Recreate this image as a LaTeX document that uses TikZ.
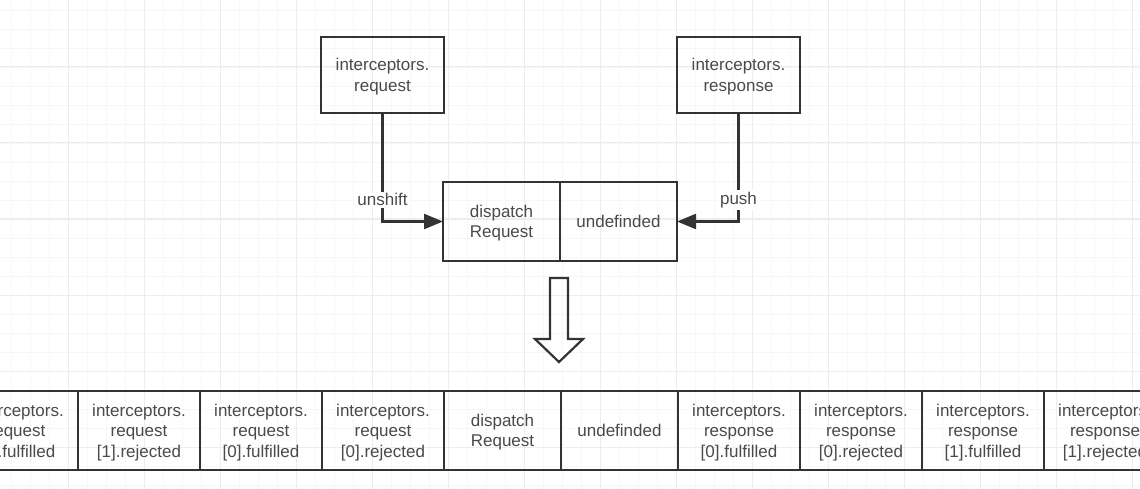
\documentclass[tikz,border=0pt]{standalone}
\usepackage{fontspec}
\setmainfont{Liberation Sans}
\usetikzlibrary{positioning, arrows.meta}
\definecolor{ink}{HTML}{333333}
\definecolor{txt}{HTML}{4A4A4A}
\definecolor{majorgrid}{HTML}{EDEDED}
\definecolor{minorgrid}{HTML}{F7F7F7}
\tikzset{
  box/.style={draw=ink, line width=2.6pt, text=txt, align=center,
    inner sep=0pt, outer sep=0pt, minimum height=76pt, text depth=0pt,
    font=\fontsize{17}{20.5}\selectfont},
  cell/.style={box, minimum height=79pt},
  conn/.style={draw=ink, line width=2.2pt, -{Triangle[length=19pt, width=15pt]}},
  lbl/.style={fill=white, text=txt, inner sep=2pt, font=\fontsize{17}{20.5}\selectfont}
}

\begin{document}
\begin{tikzpicture}[x=1pt, y=-1pt]
    \useasboundingbox (0,0) rectangle (1140,489);
    \clip (0,0) rectangle (1140,489);
    \fill[white] (0,0) rectangle (1140,489);
    % Background grid
    \begin{scope}[shift={(-8,-9)}]
      \draw[step=19pt, minorgrid, line width=0.8pt] (0,510) grid (1170,0);
      \draw[step=76pt, majorgrid, line width=1pt] (0,510) grid (1170,0);
    \end{scope}
    % Interceptor managers
    \node[box, minimum width=123pt] (req) at (382.5,75) {interceptors.\\request};
    \node[box, minimum width=123pt] (resp) at (738.5,75) {interceptors.\\response};
    % Initial chain
    \node[cell, minimum width=117pt] (disp) at (501.5,221.5) {dispatch\\Request};
    \node[cell, minimum width=117pt, right=0pt of disp] (undef) {undefinded};
    % unshift / push
    \draw[conn] (req.south) |- node[lbl, pos=0.4] {unshift} (disp.west);
    \draw[conn] (resp.south) |- node[lbl, pos=0.4] {push} (undef.east);
    % Hollow arrow
    \draw[ink, line width=2.2pt, line join=miter]
    (550,278) -- (568,278) -- (568,339) -- (583,339) -- (559,362) -- (535,339) -- (550,339) -- cycle;
    % Resulting chain
    \node[cell, minimum width=122pt, anchor=west] (c0) at (-44,430.5)
      {interceptors.\\request\\{}[1].fulfilled};
    \foreach \w/\t [count=\i, remember=\i as \j (initially 0)] in {
      122/{interceptors.\\request\\{}[1].rejected},
      122/{interceptors.\\request\\{}[0].fulfilled},
      122/{interceptors.\\request\\{}[0].rejected},
      117/{dispatch\\Request},
      117/{undefinded},
      122/{interceptors.\\response\\{}[0].fulfilled},
      122/{interceptors.\\response\\{}[0].rejected},
      122/{interceptors.\\response\\{}[1].fulfilled},
      122/{interceptors.\\response\\{}[1].rejected}}{
      \node[cell, minimum width=\w pt, right=0pt of c\j] (c\i) {\t};
    }
\end{tikzpicture}
\end{document}
